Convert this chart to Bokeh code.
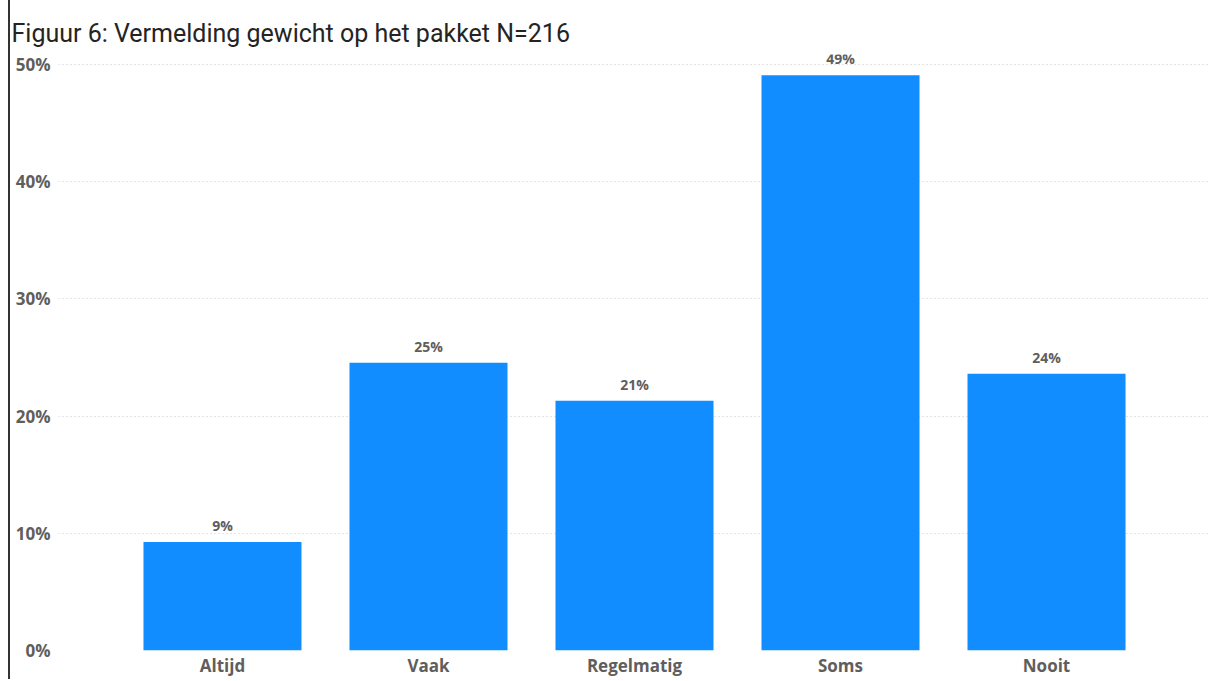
from bokeh.plotting import figure
from bokeh.models import ColumnDataSource, FactorRange, Range1d, NumeralTickFormatter, FixedTicker, Title
from bokeh.core.properties import value
from bokeh.embed import file_html
from bokeh.resources import INLINE

categories = ["Altijd", "Vaak", "Regelmatig", "Soms", "Nooit"]
shares = [0.0926, 0.2454, 0.2130, 0.4907, 0.2361]
labels = ["9%", "25%", "21%", "49%", "24%"]
y_ticks = [0, 0.1, 0.2, 0.3, 0.4, 0.5]
title_text = "Figuur 6: Vermelding gewicht op het pakket N=216"

src = ColumnDataSource(dict(cat=categories, val=shares, lab=labels))

p = figure(
    x_range=FactorRange(*categories, range_padding=0.296, range_padding_units="absolute"),
    y_range=Range1d(0, 0.5085),
    width=1212, height=679,
    output_backend="svg", toolbar_location=None,
    min_border_left=58, min_border_right=2, min_border_top=54, min_border_bottom=29,
)
p.title = Title(text=title_text, text_font="Roboto", text_font_size="25px",
                text_font_style="normal", text_color="#252423",
                offset=-47, standoff=9, vertical_align="top")
p.outline_line_color = None
p.border_fill_color = None
p.styles = {"background": "linear-gradient(to right, #ffffff 0px, #ffffff 8px, #333333 8px, #333333 10px, #ffffff 10px)"}

p.vbar(x="cat", top="val", width=0.767, source=src, fill_color="#118DFF", line_color=None)
p.text(x="cat", y="val", text="lab", source=src, y_offset=-7,
       text_align="center", text_baseline="bottom",
       text_font=value("Open Sans"), text_font_style="bold",
       text_font_size="14px", text_color="#605E5C")

p.yaxis.ticker = FixedTicker(ticks=y_ticks)
p.yaxis.formatter = NumeralTickFormatter(format="0%")
for ax in (p.xaxis, p.yaxis):
    ax.axis_line_color = None
    ax.major_tick_line_color = None
    ax.minor_tick_line_color = None
    ax.major_tick_out = 0
    ax.major_tick_in = 0
    ax.minor_tick_out = 0
    ax.minor_tick_in = 0
    ax.major_label_text_font = "Open Sans"
    ax.major_label_text_font_style = "bold"
    ax.major_label_text_font_size = "17px"
    ax.major_label_text_color = "#605E5C"
p.yaxis.major_label_standoff = 8
p.xaxis.major_label_standoff = 3

p.xgrid.grid_line_color = None
p.ygrid.grid_line_color = "#C8C8C8"
p.ygrid.grid_line_dash = "1 3"
p.ygrid.grid_line_width = 1

open("out.html", "w").write(file_html(p, INLINE))
